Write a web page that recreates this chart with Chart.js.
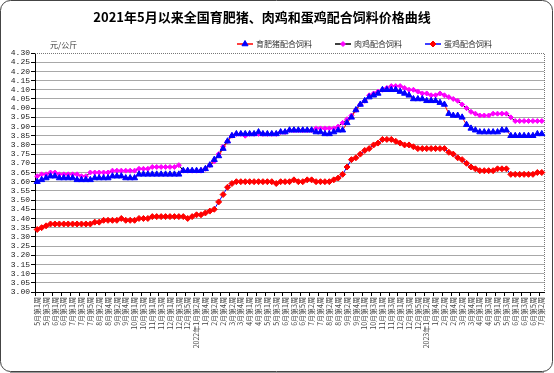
<!DOCTYPE html>
<html>
<head>
<meta charset="utf-8">
<script src="https://cdn.jsdelivr.net/npm/chart.js@4.4.0/dist/chart.umd.min.js"></script>
<style>
    html, body { margin: 0; padding: 0; background: #fff; }
    #wrap { width: 554px; height: 373px; position: relative; }
</style>
</head>
<body>
<div id="wrap"><canvas id="feedChart"></canvas></div>
<script>
const chartTitle = '2021年5月以来全国育肥猪、肉鸡和蛋鸡配合饲料价格曲线';
const unitLabel = '元/公斤';
const seriesNames = ['育肥猪配合饲料', '肉鸡配合饲料', '蛋鸡配合饲料'];

// [年, 月, 当月周数]
const monthWeeks = [
    [2021, 5, 4], [2021, 6, 4], [2021, 7, 5], [2021, 8, 4], [2021, 9, 5], [2021, 10, 4], [2021, 11, 4], [2021, 12, 5],
    [2022, 1, 4], [2022, 2, 4], [2022, 3, 5], [2022, 4, 4], [2022, 5, 4], [2022, 6, 5], [2022, 7, 4], [2022, 8, 4],
    [2022, 9, 5], [2022, 10, 4], [2022, 11, 4], [2022, 12, 5],
    [2023, 1, 4], [2023, 2, 4], [2023, 3, 5], [2023, 4, 4], [2023, 5, 4], [2023, 6, 5], [2023, 7, 2]
];

const pigFeed = [
    3.60, 3.61, 3.62, 3.63, 3.63, 3.62, 3.62, 3.62, 3.62, 3.61,
    3.61, 3.61, 3.61, 3.62, 3.62, 3.62, 3.62, 3.63, 3.63, 3.63,
    3.62, 3.62, 3.62, 3.64, 3.64, 3.64, 3.64, 3.64, 3.64, 3.64,
    3.64, 3.64, 3.64, 3.66, 3.66, 3.66, 3.66, 3.66, 3.67, 3.69,
    3.72, 3.74, 3.78, 3.82, 3.85, 3.86, 3.86, 3.86, 3.86, 3.86,
    3.87, 3.86, 3.86, 3.86, 3.86, 3.87, 3.87, 3.88, 3.88, 3.88,
    3.88, 3.88, 3.88, 3.87, 3.87, 3.86, 3.86, 3.87, 3.88, 3.88,
    3.92, 3.95, 3.99, 4.02, 4.04, 4.06, 4.07, 4.08, 4.10, 4.10,
    4.10, 4.10, 4.09, 4.08, 4.07, 4.05, 4.05, 4.05, 4.04, 4.04,
    4.04, 4.03, 4.02, 3.97, 3.96, 3.96, 3.95, 3.91, 3.89, 3.88,
    3.87, 3.87, 3.87, 3.87, 3.87, 3.88, 3.88, 3.85, 3.85, 3.85,
    3.85, 3.85, 3.85, 3.86, 3.86
];

const broilerFeed = [
    3.63, 3.64, 3.64, 3.65, 3.65, 3.64, 3.64, 3.64, 3.64, 3.64,
    3.63, 3.63, 3.65, 3.65, 3.65, 3.65, 3.65, 3.66, 3.66, 3.66,
    3.66, 3.66, 3.66, 3.67, 3.67, 3.67, 3.68, 3.68, 3.68, 3.68,
    3.68, 3.68, 3.69, 3.66, 3.66, 3.66, 3.66, 3.66, 3.67, 3.69,
    3.71, 3.75, 3.79, 3.82, 3.85, 3.86, 3.86, 3.85, 3.86, 3.86,
    3.86, 3.86, 3.86, 3.86, 3.86, 3.87, 3.87, 3.88, 3.88, 3.88,
    3.88, 3.88, 3.88, 3.89, 3.89, 3.89, 3.89, 3.89, 3.90, 3.92,
    3.94, 3.96, 3.99, 4.02, 4.04, 4.07, 4.08, 4.09, 4.10, 4.11,
    4.12, 4.12, 4.12, 4.11, 4.10, 4.10, 4.09, 4.08, 4.08, 4.07,
    4.07, 4.08, 4.07, 4.06, 4.05, 4.04, 4.02, 4.00, 3.98, 3.97,
    3.96, 3.96, 3.96, 3.97, 3.97, 3.97, 3.97, 3.95, 3.93, 3.93,
    3.93, 3.93, 3.93, 3.93, 3.93
];

const layerFeed = [
    3.34, 3.35, 3.36, 3.37, 3.37, 3.37, 3.37, 3.37, 3.37, 3.37,
    3.37, 3.37, 3.37, 3.38, 3.38, 3.39, 3.39, 3.39, 3.39, 3.40,
    3.39, 3.39, 3.39, 3.40, 3.40, 3.40, 3.41, 3.41, 3.41, 3.41,
    3.41, 3.41, 3.41, 3.41, 3.40, 3.41, 3.42, 3.42, 3.43, 3.44,
    3.45, 3.49, 3.53, 3.57, 3.59, 3.60, 3.60, 3.60, 3.60, 3.60,
    3.60, 3.60, 3.60, 3.60, 3.59, 3.60, 3.60, 3.60, 3.61, 3.60,
    3.60, 3.61, 3.61, 3.60, 3.60, 3.60, 3.60, 3.61, 3.62, 3.64,
    3.68, 3.72, 3.73, 3.75, 3.77, 3.78, 3.80, 3.81, 3.83, 3.83,
    3.83, 3.82, 3.81, 3.80, 3.80, 3.79, 3.78, 3.78, 3.78, 3.78,
    3.78, 3.78, 3.78, 3.76, 3.75, 3.73, 3.72, 3.70, 3.68, 3.67,
    3.66, 3.66, 3.66, 3.66, 3.67, 3.67, 3.67, 3.64, 3.64, 3.64,
    3.64, 3.64, 3.64, 3.65, 3.65
];

// 周标签：一月前两周带年份
const weekLabels = [];
monthWeeks.forEach(([y, m, n], k) => {
    for (let w = 1; w <= n; w++) {
        const yearPrefix = (m === 1 && k > 0 && w <= 2) ? y + '年' : '';
        weekLabels.push(`${yearPrefix}${m}月第${w}周`);
    }
});

const cjk = '"Noto Sans CJK SC", "Noto Sans", sans-serif';

const decoPlugin = {
    id: 'deco',
    beforeDraw(chart) {
        const { ctx, width, height } = chart;
        ctx.save();
        ctx.fillStyle = '#fff';
        ctx.fillRect(0, 0, width, height);
        ctx.restore();
    },
    beforeDatasetsDraw(chart) {
        const { ctx, chartArea: a } = chart;
        ctx.save();
        ctx.strokeStyle = '#777';
        ctx.lineWidth = 1;
        ctx.setLineDash([1, 1]);
        ctx.beginPath();
        ctx.moveTo(a.left, Math.round(a.top) + 0.5);
        ctx.lineTo(Math.round(a.right) + 0.5, Math.round(a.top) + 0.5);
        ctx.lineTo(Math.round(a.right) + 0.5, a.bottom);
        ctx.stroke();
        ctx.restore();
    },
    afterDraw(chart) {
        const { ctx, width, height } = chart;
        ctx.save();

        // 标题
        ctx.fillStyle = '#000';
        ctx.font = 'bold 13px ' + cjk;
        ctx.textAlign = 'center';
        ctx.textBaseline = 'middle';
        ctx.fillText(chartTitle, 262, 17);

        // 单位
        ctx.font = '8px ' + cjk;
        ctx.fillStyle = '#333';
        ctx.textAlign = 'left';
        ctx.fillText(unitLabel, 50, 45);

        // 图例
        const legendLine = ['#ff0000', '#000000', '#0000ff'];
        let x = 237;
        const y = 44;
        chart.data.datasets.forEach((ds, i) => {
            ctx.strokeStyle = legendLine[i];
            ctx.lineWidth = 1.5;
            ctx.setLineDash([]);
            ctx.beginPath();
            ctx.moveTo(x, y);
            ctx.lineTo(x + 16, y);
            ctx.stroke();
            ctx.fillStyle = ds.pointBackgroundColor;
            ctx.strokeStyle = ds.pointBorderColor;
            ctx.lineWidth = 1;
            Chart.helpers.drawPoint(ctx, { pointStyle: ds.pointStyle, radius: ds.pointRadius, borderWidth: 1, rotation: 0 }, x + 8, y);
            ctx.fillStyle = '#333';
            ctx.font = '8px ' + cjk;
            ctx.textAlign = 'left';
            ctx.fillText(ds.label, x + 19, y);
            x += 19 + ctx.measureText(ds.label).width + 23;
        });

        // 外框
        ctx.strokeStyle = '#444';
        ctx.lineWidth = 1;
        ctx.beginPath();
        ctx.roundRect(0.5, 0.5, width - 2, height - 2, 10);
        ctx.stroke();
        ctx.strokeStyle = '#999';
        ctx.beginPath();
        ctx.moveTo(10, height - 0.5);
        ctx.lineTo(width - 10, height - 0.5);
        ctx.stroke();
        ctx.restore();
    }
};

new Chart(document.getElementById('feedChart'), {
    type: 'line',
    data: {
        labels: weekLabels,
        datasets: [
            {
                label: seriesNames[0],
                data: pigFeed,
                borderColor: '#ff0000',
                borderWidth: 1,
                pointStyle: 'triangle',
                pointRadius: 3.5,
                pointBackgroundColor: '#0000ff',
                pointBorderColor: '#0000ff',
                pointBorderWidth: 1
            },
            {
                label: seriesNames[1],
                data: broilerFeed,
                borderColor: '#000000',
                borderWidth: 1,
                pointStyle: 'rectRot',
                pointRadius: 2.5,
                pointBackgroundColor: '#ff00ff',
                pointBorderColor: '#ff00ff',
                pointBorderWidth: 1
            },
            {
                label: seriesNames[2],
                data: layerFeed,
                borderColor: '#0000ff',
                borderWidth: 1,
                pointStyle: 'rectRot',
                pointRadius: 3,
                pointBackgroundColor: '#ff0000',
                pointBorderColor: '#ff0000',
                pointBorderWidth: 1
            }
        ]
    },
    options: {
        responsive: true,
        maintainAspectRatio: false,
        animation: false,
        devicePixelRatio: 1,
        layout: { padding: { top: 53, right: 10, bottom: 0, left: 0 } },
        plugins: {
            legend: { display: false },
            title: { display: false },
            tooltip: { enabled: false }
        },
        scales: {
            x: {
                offset: true,
                afterFit: (s) => { s.height = 81; },
                border: { color: '#000', width: 1 },
                grid: {
                    drawOnChartArea: false,
                    tickLength: 4,
                    offset: true,
                    tickColor: (c) => (c.index % 2 === 0 ? '#000' : 'rgba(0,0,0,0)')
                },
                ticks: {
                    autoSkip: false,
                    minRotation: 90,
                    maxRotation: 90,
                    padding: 1,
                    color: '#444',
                    font: { family: cjk, size: 7 },
                    callback: function (value, index) {
                        return index % 2 === 0 ? this.getLabelForValue(value) : '';
                    }
                }
            },
            y: {
                min: 3.0,
                max: 4.3,
                afterFit: (s) => { s.width = 35; },
                border: { color: '#000', width: 1 },
                grid: {
                    color: (c) => (c.tick && Math.abs(c.tick.value - 4.3) < 1e-6 ? 'rgba(0,0,0,0)' : '#a8a8a8'),
                    tickColor: '#000',
                    tickLength: 4,
                    lineWidth: 1
                },
                ticks: {
                    autoSkip: false,
                    stepSize: 0.05,
                    padding: 1,
                    color: '#222',
                    font: { family: '"Liberation Mono", "DejaVu Sans Mono", monospace', size: 8 },
                    callback: (v) => Number(v).toFixed(2)
                }
            }
        }
    },
    plugins: [decoPlugin]
});
</script>
</body>
</html>
